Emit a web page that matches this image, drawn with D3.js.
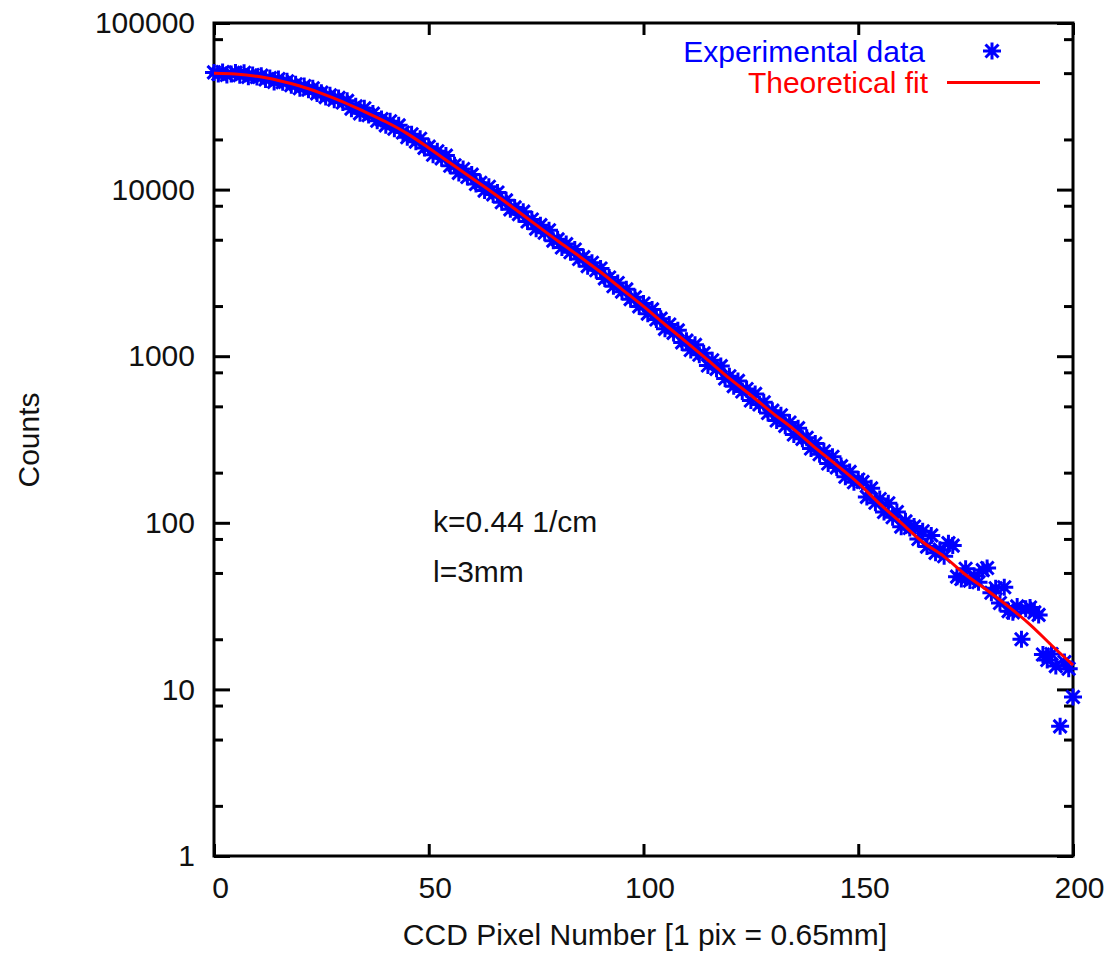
<!DOCTYPE html>
<html>
<head>
<meta charset="utf-8">
<script src="https://cdn.jsdelivr.net/npm/d3@7"></script>
<style>
    body { margin: 0; background: #fff; }
    svg text { font-family: "Liberation Sans", Arial, sans-serif; font-size: 30px; fill: #111; }
    .axis line { stroke: #000; stroke-width: 3; }
    .axis path.domain { display: none; }
</style>
</head>
<body>
<div id="chart"></div>
<script>
// CCD pixel index of every measured point
const pixels = d3.range(0, 201);

const counts = [
    50500, 49400, 50800, 48700, 49500, 50400, 48600, 50300, 47500, 48700,
    47400, 48300, 45800, 46700, 44300, 46100, 44100, 44700, 42300, 42900,
    40600, 41900, 39800, 40600, 37800, 38200, 35900, 36800, 34600, 35500,
    33300,
    34100, 30600, 31600, 28700, 30800, 28000, 28600, 25900, 26500, 24300,
    25700, 23200, 24300, 22000, 20600, 21500, 19400, 20200, 17800, 18100,
    16200, 17000, 15400, 16000, 13900, 14000, 12600, 13300, 11900, 12300,
    10800, 11000, 9860, 10400, 9360, 9600, 8400, 8620, 7610, 7820,
    7120, 7370, 6440, 6610, 5830, 6120, 5510, 5700, 4940, 5030,
    4490, 4710, 4210, 4370, 3830, 3930, 3470, 3640, 3280, 3360,
    2930, 2970, 2630, 2750, 2440, 2520, 2200, 2260, 1990, 2070,
    1800, 1910, 1660, 1680, 1460, 1550, 1380, 1430, 1210, 1240,
    1090, 1170, 1020, 1040, 880, 946, 840, 872, 735, 758,
    661, 711, 614, 635, 542, 594, 513, 529, 456, 471,
    411, 442, 382, 400, 339, 370, 319, 324, 279, 299,
    258, 269, 227, 249, 215, 219, 189, 202, 175, 182,
    176, 143, 161, 132, 139, 116, 131, 108, 116, 94.8,
    102, 93, 95, 80, 89, 72, 84, 66, 69, 63,
    75.5, 73, 47.5, 46, 53, 45, 48, 44, 52, 53.5,
    38, 40.5, 33, 41, 29.5, 29, 31.5, 20, 30.5, 31,
    29, 28, 16.2, 15, 16.3, 13.8, 6, 14.6, 13.3, 9
];

// theoretical fit, sampled every 5 pixels
const fitPixels = d3.range(0, 201, 5);
const fitCounts = [
    50000, 49430, 47860, 45190, 41880, 37840, 33650, 29380, 25530, 21680,
    17780, 14450, 11750, 9550, 7670, 6140, 4930, 3990, 3200, 2520,
    1990, 1550, 1216, 948, 736, 583, 457, 364, 282, 222,
    173, 130, 99.8, 76.7, 62.7, 48.8, 39.4, 31.4, 24.5, 18.4,
    14.0
];

const xTicks = [0, 50, 100, 150, 200];
const yTicks = [1, 10, 100, 1000, 10000, 100000];
const yMinorTicks = [2, 5, 8, 20, 50, 80, 200, 500, 800, 2000, 5000, 8000, 20000, 50000, 80000];
const legendLabels = ['Experimental data', 'Theoretical fit'];
const notes = ['k=0.44 1/cm', 'l=3mm'];

const starPath = 'M-9,0H9M0,-8.5V8.5M-6.5,-6.5L6.5,6.5M-6.5,6.5L6.5,-6.5';

class CountsPlot {
    constructor(_config) {
        this.config = {
            parentElement: _config.parentElement,
            width: 1104,
            height: 953,
            plot: {left: 214, right: 1073, top: 23, bottom: 856}
        };
        this.InitVis();
    }

    InitVis() {
        let vis = this;
        let p = vis.config.plot;

        vis.svg = d3.select(vis.config.parentElement).append('svg')
            .attr('width', vis.config.width)
            .attr('height', vis.config.height);

        vis.svg.append('rect')
            .attr('width', vis.config.width)
            .attr('height', vis.config.height)
            .attr('fill', '#fff');

        vis.xScale = d3.scaleLinear().domain([0, 200]).range([p.left, p.right]);
        vis.yScale = d3.scaleLog().domain([1, 100000]).range([p.bottom, p.top]);

        // axes, ticks pointing inward like gnuplot
        vis.svg.append('g')
            .attr('class', 'axis')
            .attr('transform', `translate(${p.left},0)`)
            .call(d3.axisLeft(vis.yScale).tickValues(yTicks).tickSize(-16).tickPadding(19)
                .tickFormat(d3.format('d')));

        vis.svg.append('g')
            .attr('class', 'axis')
            .attr('transform', `translate(${p.left},0)`)
            .call(d3.axisLeft(vis.yScale).tickValues(yMinorTicks).tickSize(-9).tickFormat(''));

        vis.svg.append('g')
            .attr('class', 'axis')
            .attr('transform', `translate(${p.right},0)`)
            .call(d3.axisRight(vis.yScale).tickValues(yTicks).tickSize(-16).tickFormat(''));

        vis.svg.append('g')
            .attr('class', 'axis')
            .attr('transform', `translate(${p.right},0)`)
            .call(d3.axisRight(vis.yScale).tickValues(yMinorTicks).tickSize(-9).tickFormat(''));

        vis.svg.append('g')
            .attr('class', 'axis')
            .attr('transform', `translate(0,${p.bottom})`)
            .call(d3.axisBottom(vis.xScale).tickValues(xTicks).tickSize(-12).tickPadding(21))
            .selectAll('text').attr('dx', 6);

        vis.svg.append('g')
            .attr('class', 'axis')
            .attr('transform', `translate(0,${p.top})`)
            .call(d3.axisTop(vis.xScale).tickValues(xTicks).tickSize(-12).tickFormat(''));

        vis.svg.append('rect')
            .attr('x', p.left)
            .attr('y', p.top)
            .attr('width', p.right - p.left)
            .attr('height', p.bottom - p.top)
            .attr('fill', 'none')
            .attr('stroke', '#000')
            .attr('stroke-width', 3);

        // axis titles
        vis.svg.append('text')
            .attr('transform', 'translate(28,440) rotate(-90)')
            .attr('text-anchor', 'middle')
            .attr('dy', '0.35em')
            .text('Counts');

        vis.svg.append('text')
            .attr('x', 645)
            .attr('y', 945)
            .attr('text-anchor', 'middle')
            .text('CCD Pixel Number [1 pix = 0.65mm]');

        vis.marks = vis.svg.append('g');
        vis.legend = vis.svg.append('g');
    }

    RenderVis() {
        let vis = this;

        vis.marks.selectAll('.point')
            .data(pixels.map((px, i) => ({px: px, c: counts[i]})))
            .join('path')
            .attr('class', 'point')
            .attr('transform', d => `translate(${vis.xScale(d.px)},${vis.yScale(d.c)})`)
            .attr('d', starPath)
            .attr('fill', 'none')
            .attr('stroke', '#0000ff')
            .attr('stroke-width', 3);

        vis.line = d3.line()
            .x(d => vis.xScale(d.px))
            .y(d => vis.yScale(d.c))
            .curve(d3.curveMonotoneX);

        vis.marks.append('path')
            .datum(fitPixels.map((px, i) => ({px: px, c: fitCounts[i]})))
            .attr('d', vis.line)
            .attr('fill', 'none')
            .attr('stroke', '#ff0000')
            .attr('stroke-width', 3);

        // legend
        vis.legend.append('text')
            .attr('x', 925).attr('y', 62)
            .attr('text-anchor', 'end')
            .style('fill', '#0000ff')
            .text(legendLabels[0]);

        vis.legend.append('path')
            .attr('transform', 'translate(992,51)')
            .attr('d', starPath)
            .attr('fill', 'none')
            .attr('stroke', '#0000ff')
            .attr('stroke-width', 3);

        vis.legend.append('text')
            .attr('x', 928).attr('y', 93)
            .attr('text-anchor', 'end')
            .style('fill', '#ff0000')
            .text(legendLabels[1]);

        vis.legend.append('line')
            .attr('x1', 947).attr('x2', 1040)
            .attr('y1', 82.5).attr('y2', 82.5)
            .attr('stroke', '#ff0000')
            .attr('stroke-width', 3);

        // fit parameters
        vis.svg.selectAll('.note')
            .data(notes)
            .join('text')
            .attr('class', 'note')
            .attr('x', 433)
            .attr('y', (d, i) => 532 + i * 50)
            .text(d => d);
    }
}

const plot = new CountsPlot({parentElement: '#chart'});
plot.RenderVis();
</script>
</body>
</html>
